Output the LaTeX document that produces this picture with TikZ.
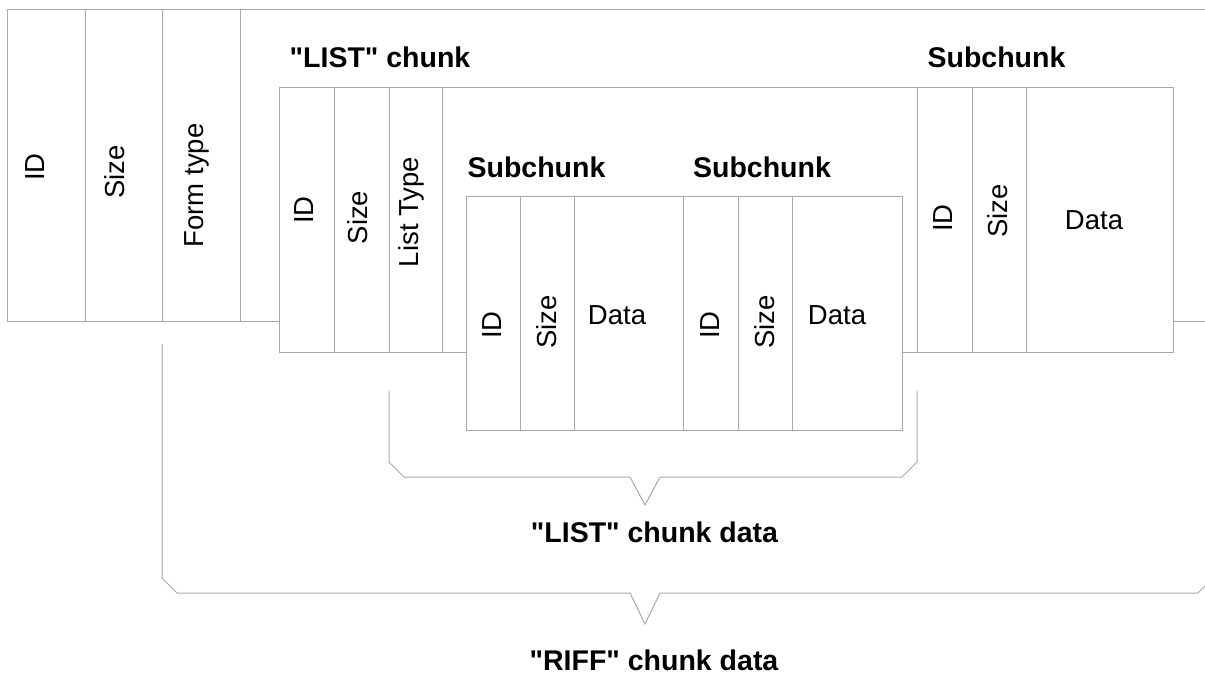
\documentclass[tikz,border=0pt]{standalone}
\usepackage{fontspec}
\newfontfamily\arialfont{Liberation Sans}
\definecolor{linegray}{HTML}{A8A8A8}
\tikzset{
  ln/.style={draw=linegray, line width=1pt, line join=miter},
  box/.style={ln, fill=white},
  lbl/.style={inner sep=0pt, font=\arialfont\fontsize{27.5}{30}\selectfont},
  rlbl/.style={lbl, rotate=90},
  ttl/.style={inner sep=0pt, anchor=base, font=\arialfont\fontsize{28.5}{32}\bfseries\selectfont}
}
\begin{document}
\begin{tikzpicture}[x=1pt,y=-1pt]
\useasboundingbox (0,0) rectangle (1205,675);
% outer RIFF chunk
\draw[ln] (1205,9) -- (7,9) -- (7,321) -- (279,321);
\draw[ln] (1173,321) -- (1205,321);
\foreach \x in {85,162,240} \draw[ln] (\x,9) -- (\x,321);
% LIST chunk
\draw[box] (279,87) rectangle (917,352);
\foreach \x in {334,389,442} \draw[ln] (\x,87) -- (\x,352);
% inner subchunks
\draw[box] (466,196) rectangle (902,430);
\foreach \x in {520,574,683,738,792} \draw[ln] (\x,196) -- (\x,430);
% right subchunk
\draw[box] (917,87) rectangle (1173,352);
\foreach \x in {972,1026} \draw[ln] (\x,87) -- (\x,352);
% braces
\coordinate (lb1) at (389,391);
\coordinate (lb2) at (917,391);
\draw[ln] (lb1) -- (389,462) -- (404,477) -- (630,477) -- (645,505) -- (660,477) -- (902,477) -- (917,462) -- (lb2);
\coordinate (rb1) at (162,344);
\coordinate (rb2) at (1213,344);
\draw[ln] (rb1) -- (162,578) -- (177,593) -- (630,593) -- (645,624) -- (660,593) -- (1198,593) -- (1213,578) -- (rb2);
% outer labels
\node[rlbl] (oid) at (35,167) {ID};
\node[rlbl] (osize) at (114.5,172) {Size};
\node[rlbl] (oform) at (196.5,185.5) {Form type};
% LIST labels
\node[rlbl] (lid) at (304,210) {ID};
\node[rlbl] (lsize) at (357.5,217.5) {Size};
\node[rlbl] (ltype) at (411,212) {List Type};
% inner labels
\node[rlbl] (aid) at (492,325) {ID};
\node[rlbl] (asize) at (547,322) {Size};
\node[lbl] (adata) at (617,315) {Data};
\node[rlbl] (bid) at (710,325) {ID};
\node[rlbl] (bsize) at (765,322) {Size};
\node[lbl] (bdata) at (837,315) {Data};
% right subchunk labels
\node[rlbl] (cid) at (943,218) {ID};
\node[rlbl] (csize) at (998,211) {Size};
\node[lbl] (cdata) at (1094,220) {Data};
% titles
\node[ttl] (tlist) at (380,67) {"LIST" chunk};
\node[ttl] (tsub) at (996.5,67) {Subchunk};
\node[ttl] (tsubA) at (536.5,177) {Subchunk};
\node[ttl] (tsubB) at (762,177) {Subchunk};
\node[ttl] (tlistdata) at (654.5,542) {"LIST" chunk data};
\node[ttl] (triffdata) at (654,670) {"RIFF" chunk data};
\end{tikzpicture}
\end{document}
